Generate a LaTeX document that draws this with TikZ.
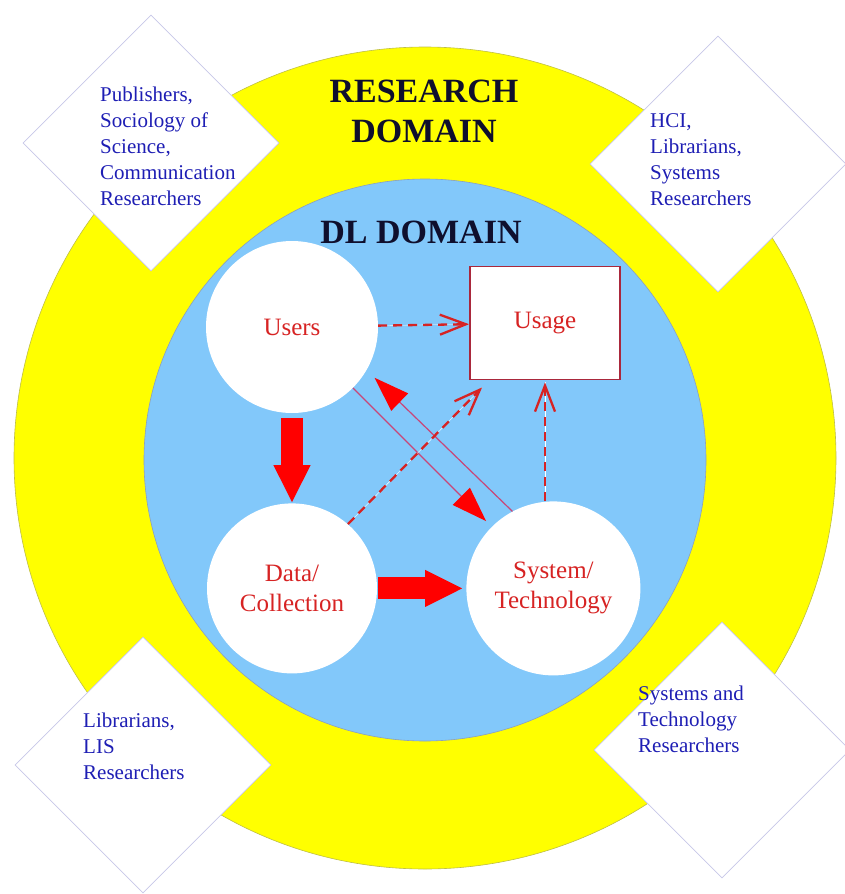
\documentclass[tikz,border=0pt]{standalone}
\usepackage{fontspec}
\setmainfont{Liberation Serif}
\usetikzlibrary{arrows.meta, positioning, shapes.geometric}

\definecolor{yellowfill}{RGB}{255,255,0}
\definecolor{yellowedge}{RGB}{190,190,70}
\definecolor{skyfill}{RGB}{130,200,250}
\definecolor{skyedge}{RGB}{140,160,190}
\definecolor{edgelav}{RGB}{200,200,232}
\definecolor{titlenavy}{RGB}{15,15,45}
\definecolor{groupblue}{RGB}{30,30,180}
\definecolor{labelred}{RGB}{215,35,35}
\definecolor{arrowred}{RGB}{255,0,0}
\definecolor{linkmauve}{RGB}{200,70,120}
\definecolor{boxred}{RGB}{170,40,60}

\begin{document}
\begin{tikzpicture}[
  x=1pt, y=-1pt,
  node distance=90pt,
  disc/.style={circle, inner sep=0pt, line width=0.6pt},
  lens/.style={diamond, draw=edgelav, fill=white, line width=0.8pt, inner sep=0pt, minimum width=256pt, minimum height=256pt},
  group/.style={anchor=north west, inner sep=0pt, align=left, text=groupblue, font=\fontsize{21}{26}\selectfont},
  title/.style={anchor=north, inner sep=0pt, align=center, text=titlenavy, font=\fontsize{34}{40}\selectfont\bfseries},
  ball/.style={circle, fill=white, inner sep=0pt, align=center, text=labelred, font=\fontsize{25}{30}\selectfont},
  bigarr/.style={draw=arrowred, line width=22pt, -{Triangle[length=38pt, width=34pt]}},
  thinarr/.style={draw=linkmauve, line width=1.2pt, -{Triangle[length=35pt, width=24pt, color=arrowred]}},
  dasharr/.style={draw=labelred, line width=2.3pt, dash pattern=on 9pt off 6pt,
    preaction={draw=white, solid, -}, -{Straight Barb[length=26pt, width=20pt]}}
]
\useasboundingbox (0,0) rectangle (845,894);

\node[disc, draw=yellowedge, fill=yellowfill, minimum size=822pt] (research) at (425,458) {};
\node[disc, draw=skyedge, fill=skyfill, minimum size=562pt] (dl) at (425,460) {};

\node[lens] (pubs) at (151,143) {};
\node[lens] (hci) at (718,164) {};
\node[lens] (lis) at (143,765) {};
\node[lens] (tech) at (722,750) {};

\node[group] (pubstext) at (100,87) {Publishers,\\Sociology of\\Science,\\Communication\\Researchers};
\node[group] (hcitext) at (650,113) {HCI,\\Librarians,\\Systems\\Researchers};
\node[group] (listext) at (83,713) {Librarians,\\LIS\\Researchers};
\node[group] (techtext) at (638,686) {Systems and\\Technology\\Researchers};

\node[title] (rtitle) at (424,80) {RESEARCH\\DOMAIN};
\node[title] (dltitle) at (421,221) {DL DOMAIN};

\node[ball, minimum size=172pt] (users) at (292,327) {Users};
\node[ball, minimum size=170pt, below=of users] (data) {Data/\\Collection};
\node[ball, minimum size=174pt, right=89pt of data] (system) {System/\\Technology};
\node[draw=boxred, line width=1.8pt, fill=white, minimum width=150pt, minimum height=113pt,
  text=labelred, font=\fontsize{25}{30}\selectfont] (usage) at (545,323) {Usage};

\draw[bigarr, shorten <=5pt] (users) -- (data);
\draw[bigarr, shorten <=1pt, shorten >=3pt] (data) -- (system);
\draw[thinarr, shorten >=8pt] (users) -- (system);
\draw[thinarr, shorten >=11pt] (system.118) -- (users.-30);
\draw[dasharr] (users) -- (usage);
\draw[dasharr] (data.49) -- ([xshift=13pt, yshift=-7pt]usage.south west);
\draw[dasharr, shorten >=2pt] (system.north -| usage.south) -- (usage.south);
\end{tikzpicture}
\end{document}
